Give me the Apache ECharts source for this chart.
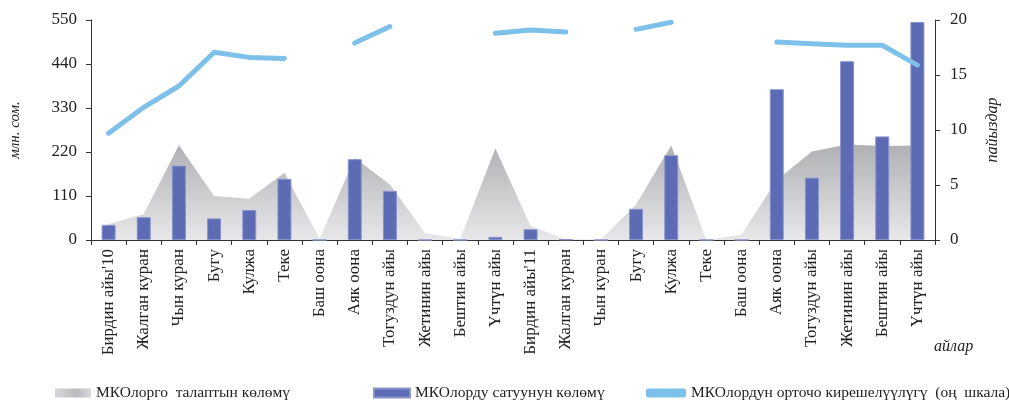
<!DOCTYPE html>
<html>
<head>
<meta charset="utf-8">
<script src="https://cdn.jsdelivr.net/npm/echarts@6/dist/echarts.min.js"></script>
<style>html,body{margin:0;padding:0;background:#fff}#c{width:1009px;height:400px}</style>
</head>
<body>
<div id="c"></div>
<script>
var categories = ["Бирдин айы'10","Жалган куран","Чын куран","Бугу","Кулжа","Теке","Баш оона","Аяк оона","Тогуздун айы","Жетинин айы","Бештин айы","Үчтүн айы","Бирдин айы'11","Жалган куран","Чын куран","Бугу","Кулжа","Теке","Баш оона","Аяк оона","Тогуздун айы","Жетинин айы","Бештин айы","Үчтүн айы"];
var demandValues = [40, 65, 237, 110, 103, 168, 3, 205, 139, 17, 3, 229, 35, 2, 1, 89, 236, 0, 14, 150, 221, 239, 235, 236];
var salesValues = [38, 57, 186, 54, 75, 153, 0, 202, 123, 0, 0, 8, 27, 1.5, 0, 78, 212, 0, 0, 377, 156, 447, 259, 545];
var yieldValues = [9.7, 12.06, 14.0, 17.06, 16.6, 16.5, null, 17.9, 19.4, null, null, 18.8, 19.1, 18.9, null, 19.15, 19.8, null, null, 18.0, 17.85, 17.7, 17.7, 15.9];
var leftTicks = [0, 110, 220, 330, 440, 550];
var rightTicks = [0, 5, 10, 15, 20];
var seriesNames = ["МКОлорго  талаптын көлөмү", "МКОлорду сатуунун көлөмү", "МКОлордун орточо кирешелүүлүгү  (оң  шкала)"];

var FONT = "'Liberation Serif', 'DejaVu Serif', serif";
var chart = echarts.init(document.getElementById('c'));
var areaGrad = new echarts.graphic.LinearGradient(0, 0, 0, 1, [
  {offset: 0, color: '#afb0b3'}, {offset: 1, color: '#e8e8ea'}
]);
var legendGrad = new echarts.graphic.LinearGradient(0, 0, 1, 0, [
  {offset: 0, color: '#d6d7d9'}, {offset: 0.6, color: '#b9babd'}, {offset: 1, color: '#d8d9db'}
]);
var legendText = {fontFamily: FONT, fontSize: 15.5, color: '#222'};
chart.setOption({
  animation: false,
  textStyle: {fontFamily: FONT},
  grid: {left: 91, right: 56, top: 20, bottom: 160, containLabel: false},
  legend: [
    {left: 55, top: 385, padding: 0, itemWidth: 36, itemHeight: 9, itemGap: 5, textStyle: legendText,
     data: [{name: seriesNames[0], icon: 'rect', itemStyle: {color: legendGrad}}]},
    {left: 373, top: 385, padding: 0, itemWidth: 36, itemHeight: 9, textStyle: legendText,
     data: [{name: seriesNames[1], icon: 'rect'}]},
    {left: 646, top: 385, padding: 0, itemWidth: 40, itemHeight: 9, textStyle: legendText,
     data: [{name: seriesNames[2], icon: 'roundRect'}]}
  ],
  xAxis: {
    type: 'category', data: categories, boundaryGap: true,
    axisLine: {lineStyle: {color: '#333', width: 1}},
    axisTick: {show: true, interval: 0, length: 5, lineStyle: {color: '#333'}},
    axisLabel: {interval: 0, rotate: 90, fontFamily: FONT, fontSize: 17, color: '#222', margin: 9}
  },
  yAxis: [
    {type: 'value', min: 0, max: 550, interval: 110,
     name: 'млн. сом.', nameLocation: 'middle', nameGap: 68, nameRotate: 90,
     nameTextStyle: {fontFamily: FONT, fontStyle: 'italic', fontSize: 15, color: '#222'},
     axisLine: {show: true, lineStyle: {color: '#333'}},
     axisTick: {show: true, length: 5, lineStyle: {color: '#333'}},
     splitLine: {show: false},
     axisLabel: {fontFamily: FONT, fontSize: 17, color: '#222', margin: 14}},
    {type: 'value', min: 0, max: 20, interval: 5, position: 'right',
     name: 'пайыздар', nameLocation: 'middle', nameGap: 50, nameRotate: 90,
     nameTextStyle: {fontFamily: FONT, fontStyle: 'italic', fontSize: 16, color: '#222'},
     axisLine: {show: true, lineStyle: {color: '#333'}},
     axisTick: {show: true, length: 5, lineStyle: {color: '#333'}},
     splitLine: {show: false},
     axisLabel: {fontFamily: FONT, fontSize: 17, color: '#222', margin: 15}}
  ],
  graphic: [
    {type: 'text', left: 934, top: 339, style: {text: 'айлар', font: 'italic 16px ' + FONT, fill: '#222'}}
  ],
  series: [
    {name: seriesNames[0], type: 'line', data: demandValues, yAxisIndex: 0, symbol: 'none',
     lineStyle: {width: 0, color: '#c4c5c8'}, itemStyle: {color: '#c4c5c8'},
     areaStyle: {color: areaGrad, opacity: 1}, z: 1},
    {name: seriesNames[1], type: 'bar', data: salesValues, yAxisIndex: 0, barWidth: 14,
     itemStyle: {color: '#5c6bb4', borderColor: '#8a94cc', borderWidth: 1}, z: 2},
    {name: seriesNames[2], type: 'line', data: yieldValues, yAxisIndex: 1, symbol: 'none',
     connectNulls: false, lineStyle: {width: 5, color: '#7dc1ea', cap: 'round', join: 'round'},
     itemStyle: {color: '#7dc1ea'}, z: 3}
  ]
});
</script>
</body>
</html>
